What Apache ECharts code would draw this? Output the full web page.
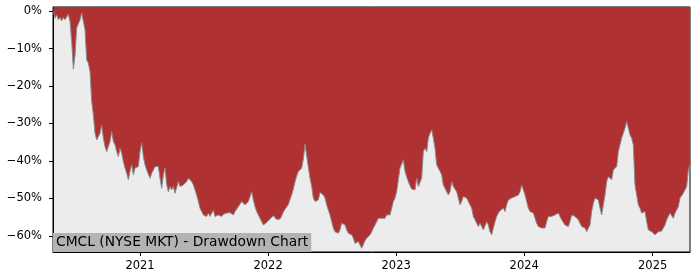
<!DOCTYPE html>
<html>
<head>
<meta charset="utf-8">
<script src="https://cdn.jsdelivr.net/npm/echarts@6/dist/echarts.min.js"></script>
<style>html,body{margin:0;padding:0;background:#fff}#c{width:700px;height:280px}</style>
</head>
<body>
<div id="c"></div>
<script>
const chartTitle = 'CMCL (NYSE MKT) - Drawdown Chart';
const startDate = '2020-04-29';
const stepDays = 4.75;
const axisStart = '2020-04-28';
const yearTicks = ['2021-01-01', '2022-01-01', '2023-01-01', '2024-01-01', '2025-01-01'];
const yTicks = [0, -10, -20, -30, -40, -50, -60];
const drawdown = [
  0, -1.9, -1.0, -2.3, -1.7, -2.6, -1.7, -2.3, -1.9, -0.8,
  -2.8, -8.1, -15.5, -11.7, -4.5, -4.7, -2.3, -0.5, 0, -5.0,
  -13.0, -13.9, -16.1, -24.1, -27.7, -32.6, -34.4, -33.5, -32.6, -30.4,
  -33.9, -36.2, -37.5, -37.5, -34.8, -32.1, -34.8, -35.7, -37.5, -38.8,
  -36.6, -37.9, -40.2, -41.9, -43.3, -45.0, -42.8, -41.0, -43.7, -41.9,
  -41.5, -41.5, -37.5, -35.2, -38.8, -41.0, -42.4, -42.8, -44.6, -43.3,
  -42.8, -41.5, -41.9, -41.5, -44.6, -47.3, -43.7, -41.9, -46.3, -48.2,
  -46.8, -47.7, -46.8, -48.6, -48.2, -45.5, -46.8, -47.3, -46.4, -46.8,
  -45.5, -44.6, -44.6, -45.5, -46.4, -47.7, -49.1, -50.8, -52.6, -53.5,
  -54.4, -53.9, -54.8, -53.9, -54.8, -55.3, -53.1, -54.8, -55.3, -54.4,
  -53.9, -54.8, -54.2, -54.4, -53.9, -54.2, -53.8, -54.0, -54.4, -53.5,
  -53.1, -52.2, -51.7, -50.8, -51.3, -51.7, -52.2, -50.8, -49.5, -48.2,
  -50.4, -52.2, -53.5, -54.4, -55.3, -56.2, -57.1, -57.2, -56.4, -56.0,
  -55.5, -55.1, -54.6, -54.5, -55.6, -55.9, -55.5, -54.7, -53.6, -52.9,
  -52.4, -51.6, -50.3, -49.0, -47.5, -45.6, -44.0, -42.8, -42.3, -41.9,
  -39.5, -35.5, -35.7, -41.7, -44.6, -46.8, -49.9, -50.8, -50.8, -50.4,
  -48.4, -48.2, -49.1, -49.9, -51.7, -53.1, -54.4, -56.2, -57.9, -58.9,
  -59.3, -59.3, -58.4, -56.6, -56.2, -57.1, -58.4, -59.3, -59.7, -59.7,
  -60.6, -62.0, -62.4, -61.5, -62.4, -63.3, -63.5, -61.3, -60.6, -60.2,
  -59.7, -58.9, -57.9, -57.1, -56.6, -55.3, -54.8, -55.3, -54.8, -55.3,
  -54.4, -54.8, -54.4, -52.6, -50.8, -49.9, -48.2, -45.0, -41.9, -42.4,
  -39.7, -42.8, -44.2, -45.5, -46.6, -47.5, -48.0, -47.7, -44.6, -46.8,
  -47.3, -44.6, -37.5, -36.6, -37.5, -33.9, -32.6, -31.7, -33.9, -36.6,
  -41.0, -41.9, -41.9, -43.7, -46.4, -47.3, -47.7, -49.1, -48.2, -45.5,
  -46.8, -46.4, -48.2, -49.9, -51.7, -50.8, -49.5, -49.1, -49.9, -50.8,
  -51.7, -52.6, -54.8, -55.7, -56.2, -57.5, -56.6, -57.5, -58.4, -58.9,
  -56.2, -57.1, -58.9, -59.7, -57.9, -56.2, -54.8, -53.9, -53.3, -53.5,
  -52.6, -53.5, -51.7, -50.4, -50.8, -49.9, -50.4, -49.5, -49.5, -49.1,
  -48.2, -46.4, -47.7, -49.1, -50.8, -52.6, -53.5, -53.1, -53.9, -55.3,
  -56.6, -57.5, -57.9, -57.9, -58.4, -57.9, -56.2, -54.8, -54.4, -54.8,
  -54.4, -54.4, -54.8, -53.9, -54.4, -55.7, -56.2, -57.1, -57.1, -57.5,
  -56.2, -54.4, -54.4, -54.8, -55.3, -55.7, -56.6, -57.5, -57.5, -57.9,
  -58.9, -57.9, -57.1, -53.5, -51.3, -49.9, -49.5, -50.4, -52.6, -54.4,
  -51.7, -49.1, -45.5, -44.2, -44.6, -45.0, -42.4, -41.9, -41.5, -37.5,
  -35.7, -33.9, -32.6, -31.2, -29.5, -31.2, -33.0, -33.9, -35.7, -46.4,
  -49.1, -51.7, -52.6, -53.9, -54.4, -53.5, -56.2, -58.4, -58.9, -58.9,
  -59.3, -59.7, -59.3, -58.9, -58.9, -58.7, -58.4, -57.1, -55.7, -54.8,
  -53.9, -54.4, -55.3, -53.9, -53.5, -52.2, -49.9, -49.9, -48.6, -48.2,
  -46.8, -42.4, -41.0
];

const DAY = 86400000;
const toTs = d => new Date(d + 'T00:00:00Z').getTime();
const t0 = toTs(startDate);
const dates = drawdown.map((_, i) => t0 + Math.round(i * stepDays * DAY));
const seriesData = drawdown.map((v, i) => [dates[i], v]);
const yearTs = yearTicks.map(toTs);
const font = 'DejaVu Sans';

const chart = echarts.init(document.getElementById('c'), null, {renderer: 'canvas'});
chart.setOption({
  animation: false,
  backgroundColor: '#ffffff',
  title: {
    text: chartTitle,
    left: 53, top: 233,
    padding: [2, 3, 2, 3],
    backgroundColor: '#b3b3b3',
    textStyle: {fontFamily: font, fontSize: 13.8, fontWeight: 'normal', color: '#000', lineHeight: 15}
  },
  grid: {
    left: 53, right: 10, top: 7, bottom: 28,
    show: true, backgroundColor: '#ececec', borderColor: '#000', borderWidth: 1
  },
  xAxis: {
    type: 'value',
    min: toTs(axisStart),
    max: dates[dates.length - 1],
    splitLine: {show: false},
    axisLine: {show: true, onZero: false, lineStyle: {color: '#000', width: 1}},
    axisTick: {show: true, length: 4, lineStyle: {color: '#000'}, customValues: yearTs},
    axisLabel: {
      fontFamily: font, fontSize: 11.5, color: '#000', margin: 8,
      customValues: yearTs,
      formatter: v => String(new Date(v).getUTCFullYear())
    }
  },
  yAxis: {
    type: 'value',
    min: -64.3, max: 1.1,
    splitLine: {show: false},
    axisLine: {show: true, lineStyle: {color: '#000', width: 1}},
    axisTick: {show: true, length: 4, lineStyle: {color: '#000'}, customValues: yTicks},
    axisLabel: {
      fontFamily: font, fontSize: 11.5, color: '#000', margin: 11,
      customValues: yTicks,
      formatter: v => (v === 0 ? '0%' : '\u2212' + Math.abs(v) + '%')
    }
  },
  series: [{
    type: 'line',
    data: seriesData,
    showSymbol: false,
    sampling: null,
    lineStyle: {color: '#8a8a8a', width: 1},
    areaStyle: {color: '#b03131', opacity: 1, origin: 'end'},
    z: 2
  }]
});
</script>
</body>
</html>
